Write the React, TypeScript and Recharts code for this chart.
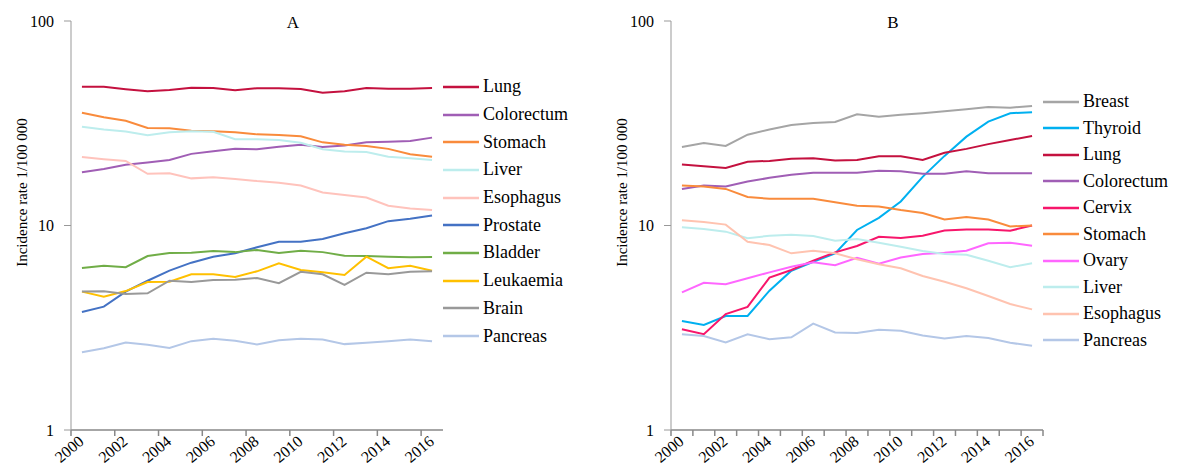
import React from 'react';
import { LineChart, Line, XAxis, YAxis, Legend } from 'recharts';

const years = [2000, 2001, 2002, 2003, 2004, 2005, 2006, 2007, 2008, 2009, 2010, 2011, 2012, 2013, 2014, 2015, 2016];
const yTicks = [1, 10, 100];

// Panel A
const namesA = ['Lung', 'Colorectum', 'Stomach', 'Liver', 'Esophagus', 'Prostate', 'Bladder', 'Leukaemia', 'Brain', 'Pancreas'];
const lungA = [47.7, 47.7, 46.4, 45.3, 46.0, 47.2, 47.0, 45.8, 46.9, 46.9, 46.5, 44.6, 45.3, 47.0, 46.7, 46.7, 47.0];
const colorectumA = [18.2, 18.9, 19.8, 20.3, 20.9, 22.4, 23.1, 23.7, 23.6, 24.3, 24.8, 24.2, 24.6, 25.5, 25.7, 25.9, 26.9];
const stomachA = [35.6, 33.8, 32.5, 30.0, 29.9, 29.1, 28.9, 28.6, 27.9, 27.7, 27.3, 25.5, 24.8, 24.5, 23.7, 22.3, 21.7];
const liverA = [30.4, 29.5, 28.8, 27.6, 28.6, 28.9, 28.7, 26.4, 26.4, 26.2, 25.4, 23.6, 23.0, 22.9, 21.7, 21.3, 20.9];
const esophagusA = [21.6, 21.1, 20.7, 17.9, 18.0, 17.0, 17.2, 16.9, 16.5, 16.2, 15.7, 14.5, 14.1, 13.7, 12.5, 12.1, 11.9];
const prostateA = [3.78, 4.01, 4.75, 5.37, 6.02, 6.58, 7.04, 7.31, 7.82, 8.33, 8.33, 8.59, 9.16, 9.69, 10.5, 10.8, 11.2];
const bladderA = [6.2, 6.36, 6.25, 7.09, 7.34, 7.36, 7.5, 7.41, 7.59, 7.34, 7.53, 7.41, 7.12, 7.09, 7.04, 6.99, 7.02];
const leukaemiaA = [4.75, 4.49, 4.78, 5.29, 5.31, 5.77, 5.77, 5.6, 5.97, 6.54, 6.06, 5.9, 5.73, 7.04, 6.18, 6.36, 6.01];
const brainA = [4.75, 4.77, 4.62, 4.66, 5.37, 5.29, 5.41, 5.43, 5.54, 5.22, 5.94, 5.77, 5.12, 5.88, 5.77, 5.94, 5.97];
const pancreasA = [2.4, 2.51, 2.68, 2.61, 2.52, 2.72, 2.79, 2.73, 2.62, 2.75, 2.79, 2.77, 2.63, 2.67, 2.72, 2.77, 2.72];

// Panel B
const namesB = ['Breast', 'Thyroid', 'Lung', 'Colorectum', 'Cervix', 'Stomach', 'Ovary', 'Liver', 'Esophagus', 'Pancreas'];
const breastB = [24.2, 25.3, 24.5, 27.8, 29.5, 31.0, 31.7, 32.1, 35.0, 34.0, 34.8, 35.4, 36.2, 37.0, 38.0, 37.7, 38.4];
const thyroidB = [3.41, 3.26, 3.61, 3.61, 4.8, 6.01, 6.65, 7.31, 9.51, 10.9, 13.1, 17.3, 21.9, 27.2, 32.2, 35.4, 35.8];
const lungB = [19.9, 19.5, 19.1, 20.5, 20.7, 21.2, 21.3, 20.8, 20.9, 21.8, 21.8, 20.9, 22.7, 23.7, 25.0, 26.2, 27.4];
const colorectumB = [15.1, 15.7, 15.5, 16.4, 17.1, 17.7, 18.1, 18.1, 18.1, 18.5, 18.4, 17.9, 17.9, 18.4, 18.0, 18.0, 18.0];
const cervixB = [3.11, 2.94, 3.69, 4.0, 5.56, 6.06, 6.73, 7.39, 7.94, 8.81, 8.69, 8.92, 9.45, 9.56, 9.56, 9.43, 10.0];
const stomachB = [15.7, 15.5, 15.1, 13.8, 13.5, 13.5, 13.5, 13.0, 12.5, 12.4, 11.9, 11.5, 10.7, 11.0, 10.7, 9.9, 10.0];
const ovaryB = [4.71, 5.25, 5.16, 5.52, 5.9, 6.29, 6.61, 6.39, 6.96, 6.51, 6.98, 7.25, 7.36, 7.53, 8.18, 8.24, 7.97];
const liverB = [9.8, 9.61, 9.33, 8.66, 8.91, 9.02, 8.89, 8.43, 8.59, 8.24, 7.88, 7.5, 7.25, 7.2, 6.73, 6.25, 6.54];
const esophagusB = [10.6, 10.4, 10.1, 8.33, 8.03, 7.31, 7.53, 7.31, 6.84, 6.46, 6.18, 5.66, 5.31, 4.93, 4.52, 4.13, 3.89];
const pancreasB = [2.94, 2.88, 2.68, 2.94, 2.78, 2.84, 3.31, 3.0, 2.98, 3.09, 3.06, 2.9, 2.8, 2.88, 2.82, 2.67, 2.58];

const valuesA: Record<string, number[]> = {
  Lung: lungA, Colorectum: colorectumA, Stomach: stomachA, Liver: liverA, Esophagus: esophagusA,
  Prostate: prostateA, Bladder: bladderA, Leukaemia: leukaemiaA, Brain: brainA, Pancreas: pancreasA,
};
const valuesB: Record<string, number[]> = {
  Breast: breastB, Thyroid: thyroidB, Lung: lungB, Colorectum: colorectumB, Cervix: cervixB,
  Stomach: stomachB, Ovary: ovaryB, Liver: liverB, Esophagus: esophagusB, Pancreas: pancreasB,
};

const colorsA: Record<string, string> = {
  Lung: '#C4113F', Colorectum: '#A05EB5', Stomach: '#F98B3C', Liver: '#BDEDED', Esophagus: '#FFC3BC',
  Prostate: '#4472C4', Bladder: '#70AD47', Leukaemia: '#FFC000', Brain: '#999999', Pancreas: '#B4C7E7',
};
const colorsB: Record<string, string> = {
  Breast: '#A5A5A5', Thyroid: '#00B0F0', Lung: '#C4113F', Colorectum: '#A05EB5', Cervix: '#F7166B',
  Stomach: '#F98B3C', Ovary: '#FF66FF', Liver: '#BDEDED', Esophagus: '#FFC3B0', Pancreas: '#B4C7E7',
};

const buildRows = (names: string[], values: Record<string, number[]>) =>
  years.map((year, i) => {
    const row: Record<string, number> = { year };
    names.forEach((n) => { row[n] = values[n][i]; });
    return row;
  });

const rowsA = buildRows(namesA, valuesA);
const rowsB = buildRows(namesB, valuesB);

// tick marks sit on the category boundaries (A: every 2nd, B: every one)
const marksA = years.filter((y) => y % 2 === 0).map((y) => y - 0.5);
const marksB = years.map((y) => y - 0.5).concat([2016.5]);

const FONT = 'Liberation Serif, DejaVu Serif, serif';

// label of the category that starts at this boundary, shown for even years only
const YearTick = (props: any) => {
  const { x, y, payload, width } = props;
  const year = payload.value + 0.5;
  if (year % 2 !== 0 || year > years[years.length - 1]) return <g />;
  const half = (width || 372) / (years.length * 2);
  return (
    <g transform={`translate(${x + half + 3},${y + 5})`}>
      <text textAnchor="end" transform="rotate(-40)" fontSize={16} fontFamily={FONT} fill="#000">
        {year}
      </text>
    </g>
  );
};

// legend keeps the order of the series, not alphabetical
const makeLegend = (names: string[], colors: Record<string, string>, rowH: number) => () => (
  <div style={{ fontFamily: FONT, fontSize: 18, color: '#000' }}>
    {names.map((n) => (
      <div key={n} style={{ height: rowH, display: 'flex', alignItems: 'center' }}>
        <svg width={40} height={4} style={{ display: 'block' }}>
          <line x1={0} x2={36} y1={2} y2={2} stroke={colors[n]} strokeWidth={2.5} />
        </svg>
        <span>{n}</span>
      </div>
    ))}
  </div>
);

interface PanelProps {
  title: string;
  width: number;
  rows: Record<string, number>[];
  names: string[];
  colors: Record<string, string>;
  marks: number[];
  legendTop: number;
  legendRow: number;
}

const Panel: React.FC<PanelProps> = ({ title, width, rows, names, colors, marks, legendTop, legendRow }) => (
  <div style={{ position: 'relative', width, height: 469 }}>
    <div style={{ position: 'absolute', left: 0, width: 586, top: 13, textAlign: 'center', fontFamily: FONT, fontSize: 17, lineHeight: '20px' }}>
      {title}
    </div>
    <LineChart width={width} height={469} data={rows} margin={{ top: 21, right: width - 443, bottom: 0, left: 11 }}>
      <XAxis
        type="number"
        dataKey="year"
        domain={[1999.5, 2016.5]}
        ticks={marks}
        interval={0}
        height={39}
        tickSize={6}
        stroke="#888"
        strokeWidth={1.5}
        tick={<YearTick />}
      />
      <YAxis
        scale="log"
        type="number"
        domain={[1, 100]}
        ticks={yTicks}
        allowDataOverflow
        width={60}
        tickSize={7}
        tickMargin={10}
        stroke="#999"
        tick={{ fontSize: 16, fontFamily: FONT, fill: '#000' }}
        label={{
          content: (lp: any) => (
            <text
              transform={`translate(27,${lp.viewBox.y + lp.viewBox.height / 2 - 33}) rotate(-90)`}
              textAnchor="middle"
              fontSize={15}
              fontFamily={FONT}
              fill="#000"
            >
              Incidence rate 1/100 000
            </text>
          ),
        }}
      />
      <Legend
        layout="vertical"
        align="center"
        verticalAlign="middle"
        wrapperStyle={{ left: 443, top: legendTop, width: 150 }}
        content={makeLegend(names, colors, legendRow)}
      />
      {names.map((n) => (
        <Line
          key={n}
          type="linear"
          dataKey={n}
          name={n}
          stroke={colors[n]}
          strokeWidth={2}
          dot={false}
          isAnimationActive={false}
        />
      ))}
    </LineChart>
  </div>
);

export default function App() {
  return (
    <div style={{ position: 'absolute', left: 0, top: 0, width: 1178, height: 469, background: '#fff', display: 'flex' }}>
      <Panel title="A" width={600} rows={rowsA} names={namesA} colors={colorsA} marks={marksA} legendTop={73} legendRow={27.7} />
      <Panel title="B" width={578} rows={rowsB} names={namesB} colors={colorsB} marks={marksB} legendTop={88.5} legendRow={26.5} />
    </div>
  );
}
